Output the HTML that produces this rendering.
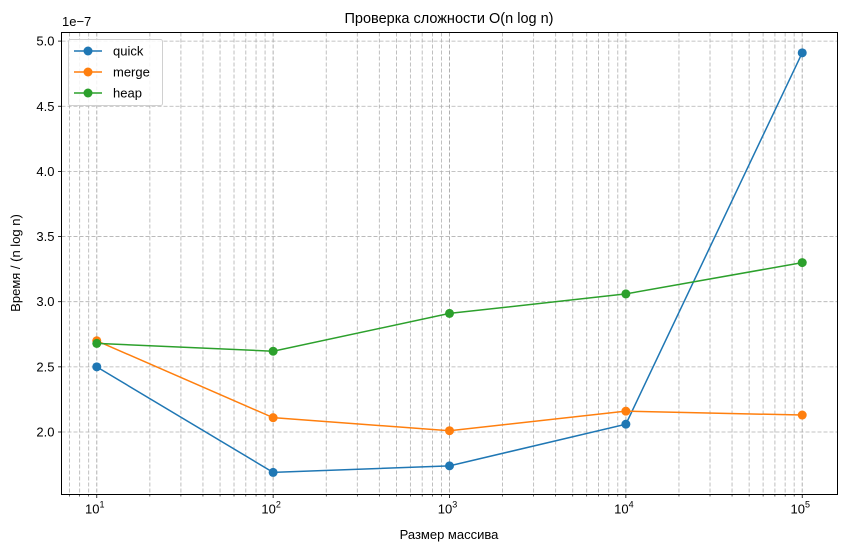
<!DOCTYPE html>
<html><head><meta charset="utf-8"><style>
body{margin:0;background:#fff}
svg text{font-family:"Liberation Sans","DejaVu Sans",sans-serif;fill:#000}
</style></head><body>
<svg id="chart" width="846" height="552" xmlns="http://www.w3.org/2000/svg">
<rect width="846" height="552" fill="#fff"/>
<g id="grid"></g>
<g id="axes"></g>
<g id="series"></g>
<rect x="61.5" y="32.5" width="776" height="462" fill="none" stroke="#000" stroke-width="1"/>
<text x="449" y="23" font-size="14.5" text-anchor="middle">Проверка сложности O(n log n)</text>
<text x="449" y="539" font-size="13" text-anchor="middle">Размер массива</text>
<text transform="translate(20,263) rotate(-90)" font-size="13" text-anchor="middle">Время / (n log n)</text>
<text x="62" y="26" font-size="13">1e−7</text>
<g id="legend"></g>
</svg>
<script>
const sizes=[10,100,1000,10000,100000];
const quick=[2.50,1.69,1.74,2.06,4.91];
const merge=[2.70,2.11,2.01,2.16,2.13];
const heap=[2.68,2.62,2.91,3.06,3.30];
const seriesNames=["quick","merge","heap"];
const seriesColors=["#1f77b4","#ff7f0e","#2ca02c"];
const yTicks=[2.0,2.5,3.0,3.5,4.0,4.5,5.0];
const xExps=[1,2,3,4,5];

const NS="http://www.w3.org/2000/svg";
const L=61.5,R=837.5,T=32.5,B=494.5;
const xl0=0.8,xl1=5.2;
function xs(v){return L+(Math.log10(v)-xl0)/(xl1-xl0)*(R-L);}
const y2=432,perUnit=130.3;
function ys(v){return y2-(v-2.0)*perUnit;}
function mk(tag,attrs,parent){const e=document.createElementNS(NS,tag);for(const k in attrs)e.setAttribute(k,attrs[k]);parent.appendChild(e);return e;}
const grid=document.getElementById('grid'),axes=document.getElementById('axes'),ser=document.getElementById('series'),leg=document.getElementById('legend');
// x grid (major+minor)
for(let e=0;e<=5;e++){for(let m=1;m<10;m++){const v=m*Math.pow(10,e);const x=xs(v);if(x<L+0.5||x>R-0.5)continue;
 const ln=mk('line',{x1:x,x2:x,y1:T,y2:B,stroke:'#b0b0b0','stroke-width':m===1?1:0.8,'stroke-dasharray':'4,2'},grid);
 
 const tk=mk('line',{x1:x,x2:x,y1:B,y2:B+(m===1?3.5:2),stroke:'#000','stroke-width':m===1?0.8:0.6},axes);
 }}
xExps.forEach(e=>{const x=xs(Math.pow(10,e));const t=mk('text',{x:x-2,y:B+19,'font-size':13,'text-anchor':'middle'},axes);
 
 t.textContent='10';const s=mk('tspan',{dy:-6,'font-size':9},t);s.textContent=e;});
yTicks.forEach(v=>{const y=ys(v);
 const g=mk('line',{x1:L,x2:R,y1:y,y2:y,stroke:'#b0b0b0','stroke-width':0.8,'stroke-dasharray':'4,2'},grid);
 
 const tk=mk('line',{x1:L-3.5,x2:L,y1:y,y2:y,stroke:'#000','stroke-width':0.8},axes);
 
 const t=mk('text',{x:L-7,y:y+4.5,'font-size':13,'text-anchor':'end'},axes);
 
 t.textContent=v.toFixed(1);});
[quick,merge,heap].forEach((d,i)=>{
 const pts=d.map((v,j)=>xs(sizes[j])+','+ys(v)).join(' ');
 const pl=mk('polyline',{points:pts,fill:'none',stroke:seriesColors[i],'stroke-width':1.5},ser);
 
 d.forEach((v,j)=>{const c=mk('circle',{cx:xs(sizes[j]),cy:ys(v),r:4.5,fill:seriesColors[i]},ser);
  });
});
const box=mk('rect',{x:68.5,y:39.5,width:94,height:66,rx:2,fill:'#fff','fill-opacity':0.85,stroke:'#d0d0d0'},leg);

seriesNames.forEach((n,i)=>{const y=51+i*21;
 const g=mk('g',{},leg);
 mk('line',{x1:74,x2:102,y1:y,y2:y,stroke:seriesColors[i],'stroke-width':1.5},g);
 mk('circle',{cx:88,cy:y,r:4.5,fill:seriesColors[i]},g);
 const t=mk('text',{x:113,y:y+4.5,'font-size':13},g);t.textContent=n;});
</script>
</body></html>
